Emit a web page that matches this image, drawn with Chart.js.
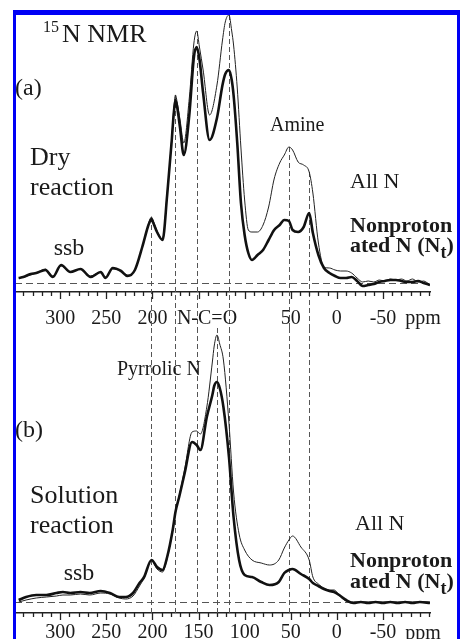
<!DOCTYPE html>
<html>
<head>
<meta charset="utf-8">
<script src="https://cdn.jsdelivr.net/npm/chart.js@4.4.1/dist/chart.umd.min.js"></script>
<style>
  html, body { margin: 0; padding: 0; background: #fff; }
  body { position: relative; width: 460px; height: 639px; overflow: hidden; }
  canvas { position: absolute; left: 0; }
  #panelA { top: 0; z-index: 1; }
  #panelB { top: 322px; }
  #frame {
    position: absolute; left: 13px; top: 10px; width: 441px; height: 700px; z-index: 2;
    border-left: 3px solid #0000f5; border-top: 5px solid #0000f5; border-right: 4px solid #0000f5;
  }
</style>
</head>
<body>
<canvas id="panelA" width="460" height="334"></canvas>
<canvas id="panelB" width="460" height="317"></canvas>
<div id="frame"></div>
<script>
// (a) dry reaction: chemical shift (ppm) and intensities
const ppmA = [345, 340, 332, 326, 316, 308, 299, 289, 278, 267,
  256, 251, 243, 234, 227, 219, 211, 205, 203, 201,
  199, 195, 189, 184, 179, 177, 175, 173, 170, 166,
  160, 155, 152, 149, 145, 138, 130, 124, 121, 117,
  114, 112, 108, 104, 100, 96, 92, 86, 80, 74,
  68, 62, 57, 52, 48, 42, 36, 30, 26, 20,
  14, 8, 2, -4, -10, -16, -22, -28, -34, -40,
  -46, -52, -58, -64, -70, -76, -82, -88, -94, -101];
const allNA = [5, 6, 8, 10, 14, 7, 17, 11, 14, 7,
  11, 6, 14, 12, 8, 13, 36, 56, 63, 66,
  62, 52, 44, 90, 145, 172, 188, 180, 163, 140,
  185, 240, 252, 236, 213, 168, 198, 243, 261, 268,
  252, 238, 195, 135, 83, 53, 51, 51, 58, 76,
  104, 120, 128, 136, 133, 121, 118, 111, 90, 40,
  16, 15, 13, 12, 12, 10, 5, 1, 2, 1,
  3, 2, 4, 3, 4, 2, 4, 1, 2, -2];
const ntA = [5, 6, 9, 10, 13, 6, 18, 11, 14, 6,
  11, 5, 15, 12, 7, 13, 36, 56, 61, 64,
  60, 51, 43, 88, 143, 168, 183, 175, 155, 128,
  168, 226, 236, 224, 190, 143, 165, 198, 209, 213,
  203, 188, 140, 80, 48, 30, 23, 28, 33, 43,
  53, 58, 63, 62, 53, 51, 56, 70, 50, 28,
  15, 10, 7, 5, 5, 6, 2, -3, -2, -1,
  1, 2, 3, 3, 2, 1, 1, 2, 0, -2];

// (b) solution reaction
const ppmB = [345, 337, 326, 315, 304, 297, 289, 278, 268, 256,
  246, 236, 229, 221, 214, 209, 201, 195, 189, 184,
  178, 175, 171, 165, 157, 152, 148, 141, 135, 133,
  130, 127, 123, 117, 112, 106, 100, 92, 82, 73,
  63, 57, 52, 48, 39, 30, 26, 20, 14, 8,
  3, -4, -10, -18, -26, -34, -42, -50, -58, -66,
  -74, -82, -90, -101];
const allNB = [0, 2, 4, 5, 6, 7, 7, 8, 7, 9,
  8, 4, 3, 6, 16, 24, 42, 33, 30, 44,
  72, 90, 106, 133, 170, 171, 168, 195, 240, 256,
  267, 258, 242, 179, 110, 68, 52, 42, 39, 37,
  42, 54, 62, 66, 55, 42, 25, 18, 14, 12,
  12, 5, 1, 0, 0, 0, 0, 0, 0, 0,
  0, 0, 0, 0];
const ntB = [2, 5, 7, 7, 9, 10, 9, 10, 9, 11,
  9, 5, 5, 9, 19, 25, 42, 35, 32, 45,
  72, 90, 105, 129, 160, 157, 152, 185, 207, 216,
  220, 214, 195, 145, 85, 42, 27, 25, 20, 17,
  20, 29, 32, 33, 28, 23, 19, 16, 13, 11,
  10, 6, 2, -1, 0, -1, 0, -1, 0, -1,
  0, -1, 0, -1];

const tickValues = [300, 250, 200, 150, 100, 50, 0, -50];
const tickLabelsA = ['300', '250', '200', '', '', '50', '0', '-50'];
const tickLabelsB = ['300', '250', '200', '150', '100', '50', '0', '-50'];
const peakLinesA = [201, 175, 152, 117, 52, 30];
const peakLinesB = [201, 175, 152, 130, 117, 52, 30];

const SERIF = '"Liberation Serif", "Times New Roman", serif';
const INK = '#1a1a1a';

function text(ctx, str, x, y, size, bold, align) {
  ctx.font = (bold ? 'bold ' : '') + size + 'px ' + SERIF;
  ctx.textAlign = align || 'left';
  ctx.textBaseline = 'alphabetic';
  ctx.fillStyle = INK;
  ctx.fillText(str, x, y);
  return x + ctx.measureText(str).width;
}

// "ated N (Nt)" with the subscript t
function ntLabel(ctx, x, y) {
  let end = text(ctx, 'ated N (N', x, y, 22, true);
  end = text(ctx, 't', end, y + 6, 18, true);
  text(ctx, ')', end, y, 22, true);
}

function decorPlugin(opts) {
  return {
    id: 'nmrDecor',
    beforeDatasetsDraw(chart) {
      const { ctx, chartArea, scales: { x, y } } = chart;
      ctx.save();
      ctx.strokeStyle = '#555';
      ctx.lineWidth = 1;
      ctx.setLineDash([7, 4]);
      const base = Math.round(y.getPixelForValue(0)) + 0.5;
      ctx.beginPath();
      ctx.moveTo(chartArea.left, base);
      ctx.lineTo(chartArea.right, base);
      ctx.stroke();
      ctx.setLineDash([5, 3]);
      opts.peakLines.forEach((p) => {
        const px = Math.round(x.getPixelForValue(p)) + 0.5;
        ctx.beginPath();
        ctx.moveTo(px, opts.lineTop(p, y));
        ctx.lineTo(px, opts.lineBottom(chart));
        ctx.stroke();
      });
      ctx.restore();
    },
    afterDraw(chart) {
      const { ctx, chartArea, scales: { x } } = chart;
      ctx.save();
      ctx.strokeStyle = '#222';
      ctx.lineWidth = 1.3;
      for (let v = 340; v >= -100; v -= 10) {
        const px = Math.round(x.getPixelForValue(v)) + 0.5;
        const len = tickValues.includes(v) ? 7 : 4;
        ctx.beginPath();
        ctx.moveTo(px, chartArea.bottom);
        ctx.lineTo(px, chartArea.bottom + len);
        ctx.stroke();
      }
      opts.labels(ctx);
      ctx.restore();
    },
  };
}

function makePanel(id, ppm, allN, nt, opts) {
  return new Chart(document.getElementById(id), {
    type: 'line',
    data: {
      datasets: [
        {
          label: 'Nonprotonated N (Nt)',
          data: ppm.map((p, i) => ({ x: p, y: nt[i] })),
          borderColor: '#111',
          borderWidth: 2.6,
        },
        {
          label: 'All N',
          data: ppm.map((p, i) => ({ x: p, y: allN[i] })),
          borderColor: '#222',
          borderWidth: 1,
        },
      ],
    },
    options: {
      responsive: false,
      animation: false,
      layout: { padding: { left: 15, right: 30, top: opts.top, bottom: 0 } },
      elements: {
        point: { radius: 0 },
        line: { cubicInterpolationMode: 'monotone', fill: false },
      },
      plugins: { legend: { display: false }, tooltip: { enabled: false } },
      scales: {
        x: {
          type: 'linear',
          reverse: true,
          min: -101,
          max: 349,
          afterBuildTicks: (s) => { s.ticks = tickValues.map((v) => ({ value: v })); },
          afterFit: (s) => { s.height = opts.axisHeight; },
          grid: { display: false, drawTicks: false },
          border: { display: true, color: '#222', width: 1.5 },
          ticks: {
            autoSkip: false,
            maxRotation: 0,
            padding: opts.labelPad,
            color: INK,
            font: { family: SERIF, size: 20 },
            callback: (v, i) => opts.tickLabels[i],
          },
        },
        y: { display: false, min: opts.yMin, max: opts.yMax },
      },
    },
    plugins: [decorPlugin(opts)],
  });
}

makePanel('panelA', ppmA, allNA, ntA, {
  top: 15, axisHeight: 42, labelPad: 15, yMin: -9, yMax: 268,
  tickLabels: tickLabelsA,
  peakLines: peakLinesA,
  lineTop: (p, y) => y.getPixelForValue(allNA[ppmA.indexOf(p)]),
  lineBottom: () => 328,
  labels: (ctx) => {
    text(ctx, '15', 43, 32, 16);
    text(ctx, 'N NMR', 62, 42, 26);
    text(ctx, '(a)', 15, 95, 24);
    text(ctx, 'Dry', 30, 165, 26);
    text(ctx, 'reaction', 30, 195, 26);
    text(ctx, 'ssb', 69, 255, 24, false, 'center');
    text(ctx, 'Amine', 270, 131, 20);
    text(ctx, 'All N', 350, 188, 22);
    text(ctx, 'Nonproton', 350, 232, 22, true);
    ntLabel(ctx, 350, 252);
    text(ctx, 'N-C=O', 207, 324, 20, false, 'center');
    text(ctx, 'ppm', 423, 324, 20, false, 'center');
  },
});

makePanel('panelB', ppmB, allNB, ntB, {
  top: 6, axisHeight: 26, labelPad: 8, yMin: -11, yMax: 274,
  tickLabels: tickLabelsB,
  peakLines: peakLinesB,
  lineTop: () => 6,
  lineBottom: (chart) => chart.chartArea.bottom,
  labels: (ctx) => {
    text(ctx, 'Pyrrolic N', 117, 53, 20);
    text(ctx, '(b)', 15, 115, 24);
    text(ctx, 'Solution', 30, 181, 26);
    text(ctx, 'reaction', 30, 211, 26);
    text(ctx, 'ssb', 79, 258, 24, false, 'center');
    text(ctx, 'All N', 355, 208, 22);
    text(ctx, 'Nonproton', 350, 245, 22, true);
    ntLabel(ctx, 350, 266);
    text(ctx, 'ppm', 423, 317, 20, false, 'center');
  },
});
</script>
</body>
</html>
